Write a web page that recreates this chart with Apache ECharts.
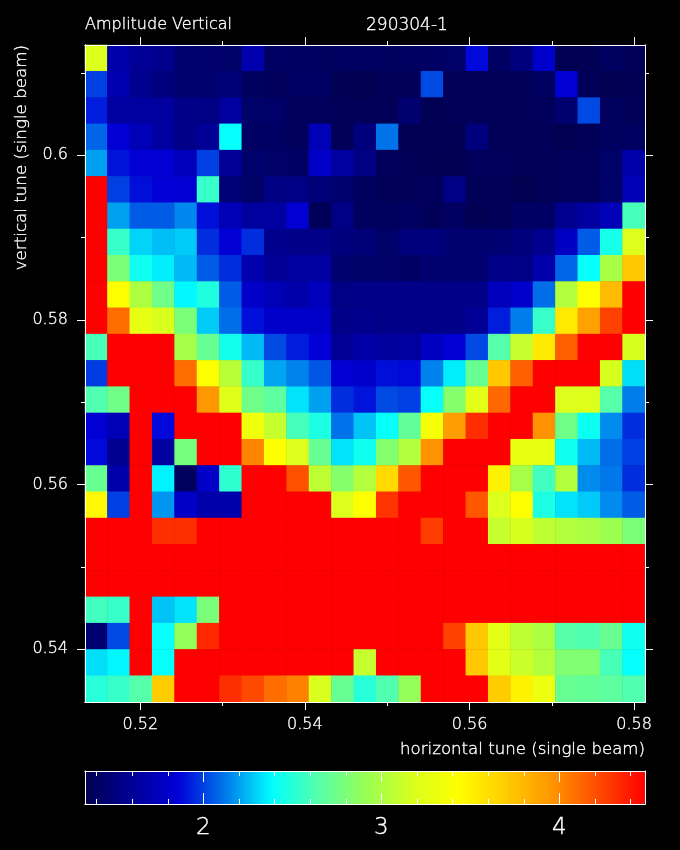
<!DOCTYPE html>
<html>
<head>
<meta charset="utf-8">
<style>html,body{margin:0;padding:0;background:#000}#c{width:680px;height:850px}</style>
<script src="https://cdn.jsdelivr.net/npm/echarts@6/dist/echarts.min.js"></script>
</head>
<body>
<div id="c"></div>
<script>
const titleLeft = 'Amplitude Vertical';
const titleRight = '290304-1';
const xName = 'horizontal tune (single beam)';
const yName = 'vertical tune (single beam)';
const xMajor = [0.52, 0.54, 0.56, 0.58];
const xMinor = [0.52, 0.53, 0.54, 0.55, 0.56, 0.57, 0.58];
const yMajor = [0.54, 0.56, 0.58, 0.6];
const yMinor = [0.54, 0.55, 0.56, 0.57, 0.58, 0.59, 0.6, 0.61];
const barMajor = [2, 3, 4];
const barMinor = [1.4, 1.6, 1.8, 2.2, 2.4, 2.6, 2.8, 3.2, 3.4, 3.6, 3.8, 4.2, 4.4];
const jet = ['#000050','#000096','#0000d7','#0078eb','#00ffff','#55ffaa','#96ff55','#d7ff1e','#ffff00','#ffcd00','#ff9600','#ff4b00','#ff0000'];
const R = 4.48;
// rows top (high vertical tune) to bottom, columns left to right
const amplitude = [
[3.2,1.68,1.6,1.56,1.46,1.44,1.43,1.7,1.41,1.4,1.4,1.4,1.4,1.4,1.4,1.41,1.43,1.88,1.41,1.5,1.82,1.35,1.35,1.4,1.37],
[2.0,1.7,1.57,1.5,1.46,1.46,1.48,1.39,1.38,1.41,1.41,1.35,1.34,1.37,1.37,2.02,1.37,1.37,1.37,1.37,1.4,1.84,1.37,1.34,1.35],
[1.92,1.64,1.64,1.63,1.55,1.53,1.64,1.43,1.43,1.38,1.38,1.37,1.37,1.37,1.46,1.35,1.37,1.37,1.37,1.37,1.38,1.46,2.02,1.39,1.37],
[2.08,1.85,1.73,1.64,1.55,1.6,2.4,1.41,1.41,1.38,1.73,1.37,1.5,2.11,1.35,1.35,1.35,1.5,1.37,1.37,1.37,1.33,1.37,1.4,1.4],
[2.2,1.9,1.85,1.85,1.75,2.0,1.6,1.44,1.43,1.41,1.8,1.64,1.53,1.38,1.37,1.35,1.34,1.38,1.38,1.37,1.37,1.38,1.38,1.43,1.68],
[R,2.0,1.89,1.86,1.84,2.55,1.48,1.43,1.53,1.53,1.48,1.46,1.39,1.37,1.37,1.38,1.53,1.37,1.37,1.34,1.37,1.38,1.38,1.43,1.73],
[R,2.2,2.06,2.06,2.15,1.89,1.73,1.63,1.64,1.84,1.37,1.53,1.39,1.39,1.4,1.37,1.4,1.35,1.37,1.41,1.41,1.57,1.64,1.73,2.6],
[R,2.55,2.3,2.26,2.28,1.96,1.85,1.96,1.57,1.55,1.55,1.5,1.48,1.43,1.5,1.5,1.46,1.46,1.46,1.5,1.57,1.78,2.06,2.45,3.2],
[R,2.8,2.43,2.35,2.25,2.06,1.96,1.7,1.6,1.64,1.64,1.46,1.43,1.43,1.41,1.46,1.46,1.46,1.55,1.53,1.68,2.08,2.4,2.98,3.72],
[R,3.42,3.0,2.75,2.37,2.48,2.06,1.8,1.73,1.68,1.75,1.53,1.55,1.55,1.55,1.55,1.55,1.55,1.75,1.82,2.1,3.03,3.42,3.78,R],
[R,4.1,3.27,3.18,2.8,2.28,2.1,1.89,1.82,1.8,1.8,1.55,1.56,1.55,1.55,1.55,1.55,1.6,1.92,2.13,2.55,3.55,3.9,4.25,R],
[2.6,R,R,R,2.97,2.72,2.44,2.25,2.02,1.92,1.86,1.6,1.66,1.63,1.63,1.78,1.84,2.02,2.65,3.1,3.55,4.15,R,R,3.17],
[1.99,R,R,R,4.1,3.42,3.05,2.55,2.21,2.14,2.05,1.84,1.82,1.89,1.88,2.14,2.35,2.72,3.72,4.15,R,R,R,3.17,2.32],
[2.63,2.75,R,R,R,3.95,3.22,2.75,2.68,2.33,2.2,1.96,1.9,2.02,2.0,2.4,2.84,3.25,4.12,R,R,3.2,3.2,2.65,2.13],
[1.85,1.73,R,1.88,R,R,R,3.33,3.1,2.6,2.47,2.11,2.27,2.4,2.7,3.38,3.92,4.32,R,R,3.97,2.75,2.42,2.16,1.96],
[1.88,1.57,R,1.64,2.78,R,R,4.02,3.42,3.2,2.72,2.33,2.43,2.83,3.03,3.97,R,R,R,3.28,3.28,2.43,2.25,2.1,2.0],
[2.72,1.68,R,2.36,1.39,1.79,2.53,R,R,4.2,3.07,2.84,3.03,3.63,4.18,R,R,R,3.5,2.97,2.58,3.03,2.16,2.12,1.96],
[3.47,2.0,R,2.18,1.79,1.68,1.68,R,R,R,R,3.2,3.42,4.3,R,R,R,4.18,3.2,3.42,2.47,2.33,2.28,2.16,2.06],
[R,R,R,4.32,4.32,R,R,R,R,R,R,R,R,R,R,4.27,R,R,3.1,3.17,3.07,3.03,2.99,2.93,2.8],
[R,R,R,R,R,R,R,R,R,R,R,R,R,R,R,R,R,R,R,R,R,R,R,R,R],
[R,R,R,R,R,R,R,R,R,R,R,R,R,R,R,R,R,R,R,R,R,R,R,R,R],
[2.58,2.55,R,2.27,2.33,2.8,R,R,R,R,R,R,R,R,R,R,R,R,R,R,R,R,R,R,R],
[1.46,2.02,R,2.4,2.9,4.34,R,R,R,R,R,R,R,R,R,R,4.25,3.72,3.25,3.07,3.0,2.65,2.63,2.72,2.43],
[2.32,2.37,R,2.4,R,R,R,R,R,R,R,R,3.1,R,R,R,R,3.72,3.25,3.12,3.03,2.82,2.82,2.6,2.4],
[2.5,2.55,2.65,3.7,R,R,4.32,4.23,4.1,4.03,3.18,2.72,2.5,2.63,2.9,R,R,R,3.7,3.5,3.3,2.72,2.7,2.68,2.63]
];
const xRange = [0.51328, 0.58132];
const yRange = [0.5336, 0.6134];
const barRange = [1.335, 4.481];
const fontFamily = '"DejaVu Sans Light","DejaVu Sans ExtraLight","DejaVu Sans"';
const ink = {color: '#fff', fontFamily, fontWeight: 'normal', textBorderColor: '#fff', textBorderWidth: 0.35};

const cells = [];
amplitude.forEach((row, r) => row.forEach((v, c) => cells.push([c, r, v])));
const idx = amplitude[0].map((_, i) => i);
const rowIdx = amplitude.map((_, i) => i);
const white = {color: '#fff', width: 1};

function valueAxis(range, grid, position, ticks, len, extra) {
  return Object.assign({
    type: 'value', gridIndex: grid, position, min: range[0], max: range[1], z: 10,
    splitLine: {show: false},
    axisLine: {show: true, onZero: false, lineStyle: white},
    axisTick: {show: ticks.length > 0, length: len, inside: grid === 1, customValues: ticks, lineStyle: white},
    axisLabel: {show: false}
  }, extra || {});
}
function labelled(values, margin, size) {
  return Object.assign({show: true, customValues: values, margin, fontSize: size, formatter: v => String(+v.toFixed(3))}, ink);
}

const option = {
  backgroundColor: '#000',
  animation: false,
  textStyle: {fontFamily},
  title: [
    {text: titleLeft, left: 85, top: 17, padding: 0, textStyle: Object.assign({fontSize: 16}, ink)},
    {text: titleRight, left: 366, top: 17, padding: 0, textStyle: Object.assign({fontSize: 17}, ink)}
  ],
  grid: [
    {left: 85, top: 45, width: 560, height: 657},
    {left: 85, top: 771, width: 560, height: 33}
  ],
  visualMap: {
    type: 'continuous', seriesIndex: 0, min: barRange[0], max: barRange[1],
    calculable: false, orient: 'horizontal', left: 85, top: 771, padding: 0,
    itemWidth: 33, itemHeight: 560, inRange: {color: jet}, textStyle: {color: '#fff'}, hoverLink: false
  },
  xAxis: [
    {type: 'category', gridIndex: 0, data: idx, show: false},
    valueAxis(xRange, 0, 'bottom', xMajor, 8, {
      axisLabel: labelled(xMajor, 15, 16),
      name: xName, nameLocation: 'end', nameGap: 0,
      nameTextStyle: Object.assign({fontSize: 16.6, align: 'right', verticalAlign: 'top', padding: [39, 0, 0, 0]}, ink)
    }),
    valueAxis(xRange, 0, 'bottom', xMinor, 4),
    valueAxis(xRange, 0, 'top', xMajor, 8),
    valueAxis(xRange, 0, 'top', xMinor, 4),
    valueAxis(barRange, 1, 'bottom', barMajor, 11, {axisLabel: labelled(barMajor, 13, 23)}),
    valueAxis(barRange, 1, 'bottom', barMinor, 5),
    valueAxis(barRange, 1, 'top', barMajor, 11),
    valueAxis(barRange, 1, 'top', barMinor, 5)
  ],
  yAxis: [
    {type: 'category', gridIndex: 0, data: rowIdx, inverse: true, show: false},
    valueAxis(yRange, 0, 'left', yMajor, 8, {
      axisLabel: labelled(yMajor, 17, 16),
      name: yName, nameLocation: 'end', nameGap: 0, nameRotate: 90,
      nameTextStyle: Object.assign({fontSize: 16.7, align: 'right', verticalAlign: 'bottom', padding: [0, 0, 55, 0]}, ink)
    }),
    valueAxis(yRange, 0, 'left', yMinor, 4),
    valueAxis(yRange, 0, 'right', yMajor, 8),
    valueAxis(yRange, 0, 'right', yMinor, 4),
    valueAxis([0, 1], 1, 'left', [], 0),
    valueAxis([0, 1], 1, 'right', [], 0)
  ],
  series: [{
    type: 'heatmap', xAxisIndex: 0, yAxisIndex: 0, data: cells,
    progressive: 0, emphasis: {disabled: true}, itemStyle: {borderWidth: 0}
  }]
};
const chart = echarts.init(document.getElementById('c'), null, {renderer: 'canvas'});
chart.setOption(option);
</script>
</body>
</html>
